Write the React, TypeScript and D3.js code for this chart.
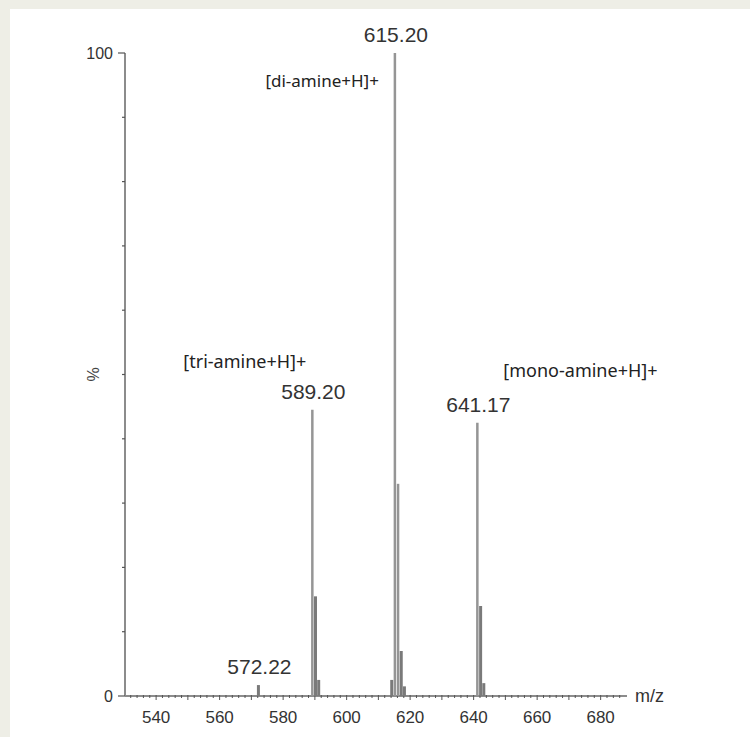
import React from 'react';
import * as d3 from 'd3';

// m/z of each stick and its relative intensity (%)
const peakMz = [572.22, 589.2, 590.2, 591.2, 614.2, 615.2, 616.2, 617.2, 618.2, 641.17, 642.2, 643.2];
const peakPct = [1.7, 44.5, 15.5, 2.5, 2.5, 100, 33, 7, 1.5, 42.5, 14, 2];

const xTicks = [540, 560, 580, 600, 620, 640, 660, 680];
const yTicks = [0, 100];

const peakLabels = [
  { mz: 572.22, pct: 1.7, text: '572.22' },
  { mz: 589.2, pct: 44.5, text: '589.20' },
  { mz: 615.2, pct: 100, text: '615.20' },
  { mz: 641.17, pct: 42.5, text: '641.17' },
];

const ionLabels = ['[tri-amine+H]+', '[di-amine+H]+', '[mono-amine+H]+'];

function App() {
  const W = 750;
  const H = 737;
  const x = d3.scaleLinear().domain([530.2, 688.3]).range([125, 627]);
  const y = d3.scaleLinear().domain([0, 100]).range([696, 53]);
  const minor = d3.range(532, 688, 2);
  const yMinor = d3.range(10, 100, 10);
  const axisCol = '#8c8c8c';
  const tickFont = 'Liberation Sans, Arial, sans-serif';
  const ionFont = 'Noto Sans, sans-serif';

  return (
    <svg width={W} height={H} style={{ position: 'absolute', left: 0, top: 0, background: '#eeeee6' }}>
      <rect x={10} y={9} width={W - 10} height={H - 9} fill="#ffffff" />

      {/* y axis */}
      <line x1={x(530.2)} x2={x(530.2)} y1={y(100)} y2={y(0)} stroke={axisCol} strokeWidth={2} />
      {yTicks.map(t => (
        <g key={t}>
          <line x1={x(530.2) - 7} x2={x(530.2)} y1={y(t)} y2={y(t)} stroke="#555" strokeWidth={1.2} />
          <text x={x(530.2) - 12} y={y(t) + 6} textAnchor="end" fontFamily={tickFont} fontSize={16} fill="#333">{t}</text>
        </g>
      ))}
      {yMinor.map(t => (
        <line key={t} x1={x(530.2) - 3} x2={x(530.2)} y1={y(t)} y2={y(t)} stroke="#555" strokeWidth={1.2} />
      ))}
      <text transform={`translate(${x(530.2) - 26},${y(50)}) rotate(-90)`} textAnchor="middle" fontFamily={tickFont} fontSize={16} fill="#444">%</text>

      {/* x axis */}
      <line x1={x(530.2)} x2={x(688.3)} y1={y(0)} y2={y(0)} stroke={axisCol} strokeWidth={2} />
      {minor.map(m => (
        <line key={m} x1={x(m)} x2={x(m)} y1={y(0) - 1} y2={y(0) + (m % 10 === 0 ? 4 : 2)} stroke="#555" strokeWidth={1} />
      ))}
      {xTicks.map(t => (
        <text key={t} x={x(t)} y={y(0) + 27} textAnchor="middle" fontFamily={tickFont} fontSize={17} fill="#333">{t}</text>
      ))}
      <text x={x(688.3) + 8} y={y(0) + 6} fontFamily={tickFont} fontSize={18} fill="#333">m/z</text>

      {/* spectrum sticks */}
      {peakMz.map((m, i) => (
        <line key={m} x1={x(m)} x2={x(m)} y1={y(0)} y2={y(peakPct[i])}
          stroke={peakPct[i] > 20 ? '#959595' : '#7a7a7a'} strokeWidth={peakPct[i] > 20 ? 2.5 : 3} />
      ))}

      {peakLabels.map(p => (
        <text key={p.text} x={x(p.mz) + 1} y={y(p.pct) - 11} textAnchor="middle" fontFamily={tickFont} fontSize={21} fill="#333">{p.text}</text>
      ))}

      <text x={x(589.2) - 6} y={y(44.5) - 42} textAnchor="end" fontFamily={ionFont} fontSize={18} fill="#222">{ionLabels[0]}</text>
      <text x={x(615.2) - 16} y={y(100) + 34} textAnchor="end" fontFamily={ionFont} fontSize={17} fill="#222">{ionLabels[1]}</text>
      <text x={x(641.17) + 26} y={y(42.5) - 46} fontFamily={ionFont} fontSize={18} fill="#222">{ionLabels[2]}</text>
    </svg>
  );
}

export default App;
